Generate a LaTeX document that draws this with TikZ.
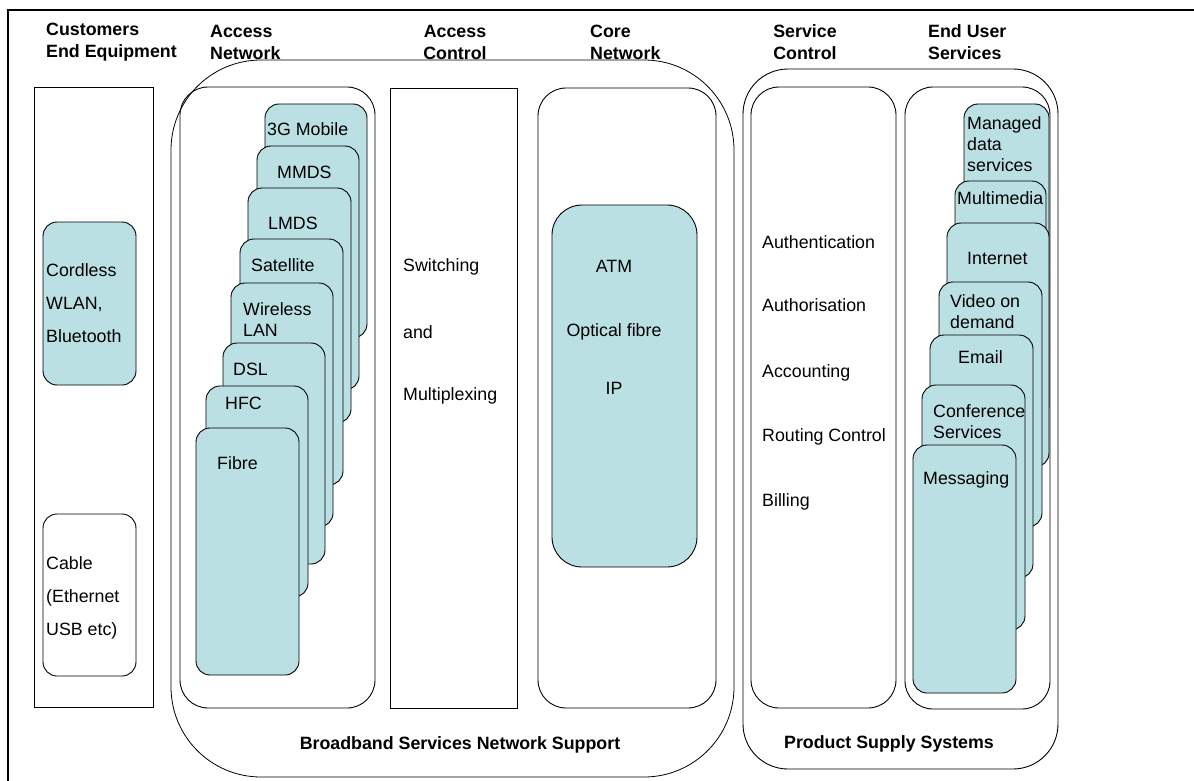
\documentclass[tikz,border=0pt]{standalone}
\usepackage{fontspec}
\setmainfont{Liberation Sans}
\usetikzlibrary{fit}
\definecolor{cardfill}{RGB}{187,224,227}
\begin{document}
\begin{tikzpicture}[x=1pt,y=-1pt,
  frame/.style={draw, line width=0.9pt, inner sep=0pt, outer sep=0pt},
  rbox/.style={frame, rounded corners=28pt},
  card/.style={frame, fill=cardfill, rounded corners=14pt, line width=0.9pt},
  txt/.style={font=\fontsize{17.8}{21}\selectfont, inner sep=0pt, anchor=west, align=left},
  hdr/.style={font=\fontsize{17.8}{22}\selectfont\bfseries, inner sep=0pt},
]
\useasboundingbox (0,0) rectangle (1194,781);
% outer frame
\draw[line width=2pt] (1200,10) -- (8,10) -- (8,790);

% group shapes
\node[frame, line width=0.8pt, rounded corners=90pt, fit={(171,60) (734,777)}] (bb) {};
\node[frame, rounded corners=45pt, fit={(743,69) (1058,769)}] (ps) {};

% headers
\node[hdr, anchor=west, align=left] (hcust) at (46,42) {Customers\\End Equipment};
\node[hdr, anchor=west, align=left] (hacc) at (210,42) {Access\\Network};
\node[hdr, align=center] (hac) at (455,42) {Access\\Control};
\node[hdr, anchor=west, align=left] (hcore) at (590,42) {Core\\Network};
\node[hdr, align=center] (hsc) at (805,42) {Service\\Control};
\node[hdr, anchor=west, align=left] (heu) at (928,42) {End User\\Services};

% customers end equipment
\node[frame, fit={(34,87) (153,707)}] (cust) {};
\node[card, fit={(43,222) (136,385)}] (cordless) {};
\node[txt, font=\fontsize{17.8}{33}\selectfont] (tcord) at (46,303) {Cordless\\WLAN,\\Bluetooth};
\node[frame, rounded corners=14pt, fit={(43,514) (136,676)}] (cable) {};
\node[txt, font=\fontsize{17.8}{33}\selectfont] (tcable) at (46,598) {Cable\\(Ethernet\\USB etc)};

% access network
\node[rbox, fit={(180,87) (375,708)}] (accnet) {};
\node[card, fit={(265,104) (367,338)}] (g3) {};
\node[txt] (tg3) at (267,129) {3G Mobile};
\node[card, fit={(257,146) (359,390)}] (mmds) {};
\node[txt] (tmmds) at (277,172) {MMDS};
\node[card, fit={(248,188) (351,423)}] (lmds) {};
\node[txt] (tlmds) at (268,223) {LMDS};
\node[card, fit={(240,239) (343,485)}] (sat) {};
\node[txt] (tsat) at (251,265) {Satellite};
\node[card, fit={(231,283) (333,527)}] (wlan) {};
\node[txt] (twlan) at (243,319.5) {Wireless\\LAN};
\node[card, fit={(223,343) (325,564)}] (dsl) {};
\node[txt] (tdsl) at (233,369) {DSL};
\node[card, fit={(206,386) (308,597)}] (hfc) {};
\node[txt] (thfc) at (225,403) {HFC};
\node[card, fit={(196,428) (299,675)}] (fibre) {};
\node[txt] (tfibre) at (217,463) {Fibre};

% access control
\node[frame, fit={(390,88) (517,708)}] (accctl) {};
\node[txt] (tsw) at (403,267) {Switching};
\node[txt] (tand) at (403,332) {and};
\node[txt] (tmux) at (403,396) {Multiplexing};

% core network
\node[rbox, fit={(538,88) (716,708)}] (core) {};
\node[card, rounded corners=30pt, fit={(552,205) (697,567)}] (coreinner) {};
\node[txt, anchor=center] (tatm) at (614,266) {ATM};
\node[txt, anchor=center] (topt) at (614,332) {Optical fibre};
\node[txt, anchor=center] (tip) at (614,388) {IP};

% service control
\node[rbox, fit={(751,87) (896,708)}] (svc) {};
\node[txt] (tauth) at (762,242) {Authentication};
\node[txt] (tauthz) at (762,305) {Authorisation};
\node[txt] (tacc) at (762,373) {Accounting};
\node[txt] (trout) at (762,437) {Routing Control};
\node[txt] (tbill) at (762,502) {Billing};

% end user services
\node[rbox, fit={(905,87) (1050,709)}] (eus) {};
\node[card, fit={(964,104) (1049,420)}] (mds) {};
\node[txt, font=\fontsize{17.8}{21}\selectfont] (tmds) at (967,144) {Managed\\data\\services};
\node[card, fit={(955,181) (1046,440)}] (mm) {};
\node[txt] (tmm) at (957,198) {Multimedia};
\node[card, fit={(947,223) (1049,467)}] (inet) {};
\node[txt] (tinet) at (967,258) {Internet};
\node[card, fit={(939,282) (1042,527)}] (vod) {};
\node[txt] (tvod) at (950,311.5) {Video on\\demand};
\node[card, fit={(930,335) (1033,578)}] (email) {};
\node[txt] (temail) at (958,357) {Email};
\node[card, fit={(922,385) (1025,630)}] (conf) {};
\node[txt] (tconf) at (933,422) {Conference\\Services};
\node[card, fit={(913,445) (1016,693)}] (msg) {};
\node[txt] (tmsg) at (923,480) {Messaging};

% group labels
\node[hdr] (tbb) at (460,745) {Broadband Services Network Support};
\node[hdr] (tps) at (889,744) {Product Supply Systems};
\end{tikzpicture}
\end{document}
